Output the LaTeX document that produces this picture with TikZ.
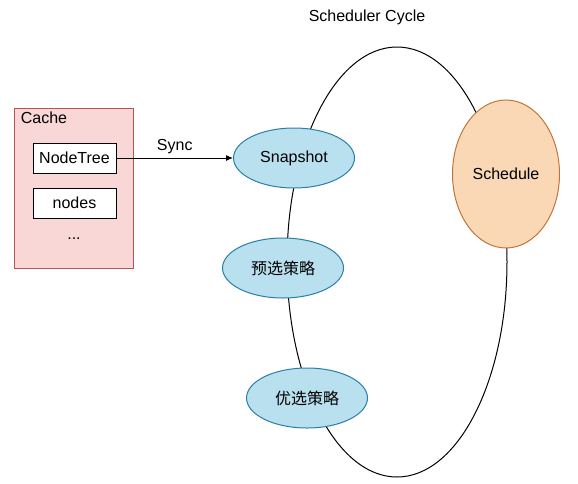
\documentclass[tikz,border=0pt]{standalone}
\usepackage{fontspec}
\setmainfont{Liberation Sans}
\newfontfamily\cjk{Noto Sans CJK SC}
\usetikzlibrary{shapes.geometric,arrows.meta}

\definecolor{cachefill}{HTML}{F8D7D6}
\definecolor{cacheline}{HTML}{B85450}
\definecolor{stepfill}{HTML}{B8E0EF}
\definecolor{stepline}{HTML}{2A7FA8}
\definecolor{schedfill}{HTML}{FAD8B6}
\definecolor{schedline}{HTML}{C0763A}

\tikzset{
    stepnode/.style={ellipse, draw=stepline, fill=stepfill, line width=1pt,
        minimum width=121pt, minimum height=60pt, inner sep=0pt},
    itembox/.style={rectangle, draw=black, fill=white, line width=1pt,
        minimum width=83pt, minimum height=30pt, inner sep=0pt}
}

\begin{document}
\begin{tikzpicture}[x=1pt, y=-1pt, line width=1pt, font=\fontsize{16}{19}\selectfont]
    \useasboundingbox (0,0) rectangle (578,483);
    \node (title) at (367,17) {Scheduler Cycle};
    % the cycle
    \draw (397,262) ellipse [x radius=110, y radius=215];
    % cache
    \node[rectangle, draw=cacheline, fill=cachefill, minimum width=119pt, minimum height=160pt] (cache) at (73.5,188) {};
    \node[anchor=west] (cachelbl) at (17,118) {Cache};
    \node[itembox] (nodetree) at (74.5,158) {NodeTree};
    \node[itembox] (nodes) at (74.5,203) {nodes};
    \node (more) at (74,239) {...};
    % steps
    \node[stepnode] (snapshot) at (294,158) {Snapshot};
    \node[stepnode] (filter) at (283,268) {\cjk 预选策略};
    \node[stepnode] (prio) at (307,398) {\cjk 优选策略};
    \node[ellipse, draw=schedline, fill=schedfill, minimum width=107pt, minimum height=148pt, inner sep=0pt] (schedule) at (506,174) {Schedule};
    \draw[-{Latex[length=7pt,width=6pt]}] (nodetree) -- (snapshot) node[midway, above] (sync) {Sync};
\end{tikzpicture}
\end{document}
